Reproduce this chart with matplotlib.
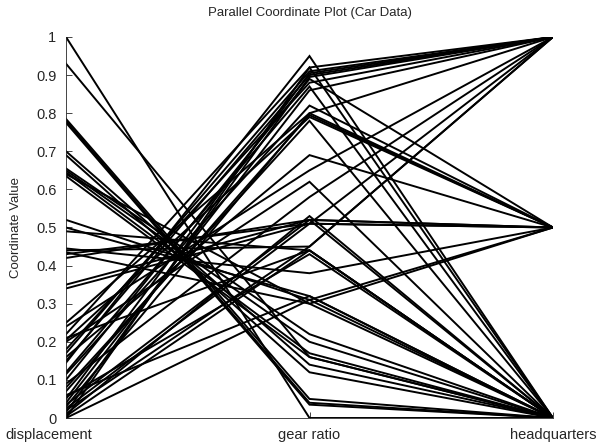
import matplotlib
matplotlib.use("Agg")
import matplotlib.pyplot as plt
import matplotlib.transforms as mtransforms
import numpy as np

plt.rcParams['font.family'] = ['Liberation Sans', 'DejaVu Sans']

variables = ["displacement", "gear ratio", "headquarters"]

displacement = [1.00, 0.93, 0.785, 0.78, 0.775, 0.70, 0.69, 0.655, 0.65, 0.645, 0.64, 0.635,
                0.52, 0.50, 0.49, 0.445, 0.44, 0.435, 0.43, 0.42, 0.35, 0.34,
                0.25, 0.24, 0.22, 0.21, 0.205, 0.20, 0.18, 0.17, 0.16, 0.15, 0.145,
                0.12, 0.115, 0.10, 0.09, 0.08, 0.07, 0.06, 0.055, 0.05, 0.04, 0.035,
                0.03, 0.025, 0.02, 0.015, 0.01, 0.005, 0.0, 0.0]
gear_ratio = [0.00, 0.16, 0.05, 0.04, 0.035, 0.14, 0.12, 0.22, 0.20, 0.17, 0.30, 0.16,
              0.31, 0.32, 0.44, 0.38, 0.45, 0.30, 0.51, 0.52, 0.52, 0.51,
              0.80, 0.65, 0.92, 0.44, 0.79, 0.62, 0.88, 0.91, 0.69, 0.90, 0.95,
              0.87, 0.82, 0.89, 0.58, 0.78, 0.795, 0.32, 0.43, 0.905, 0.86, 0.52,
              0.80, 0.51, 0.45, 0.895, 0.53, 0.44, 0.31, 0.92]
headquarters = [0.0, 0.0, 0.0, 0.0, 0.0, 0.0, 0.0, 0.0, 0.0, 0.0, 0.5, 0.0,
                0.0, 0.0, 0.0, 0.5, 1.0, 0.0, 0.5, 0.0, 0.5, 1.0,
                1.0, 1.0, 1.0, 0.0, 0.5, 0.0, 1.0, 1.0, 0.5, 1.0, 0.0,
                0.0, 0.5, 0.5, 1.0, 0.0, 0.5, 0.0, 0.0, 1.0, 1.0, 0.5,
                0.5, 0.5, 1.0, 1.0, 0.0, 0.0, 0.5, 0.0]

fig = plt.figure(figsize=(6.04, 4.48), dpi=100)
ax = fig.add_axes([66/604, 1-418/448, (553-66)/604, (418-37)/448])

xs = np.arange(1, len(variables) + 1)
for d, g, h in zip(displacement, gear_ratio, headquarters):
    ax.plot(xs, [d, g, h], color='black', lw=1.4, solid_joinstyle='miter')

ax.set_xlim(1, 3)
ax.set_ylim(0, 1)
ax.set_xticks(xs)
ax.set_xticklabels(variables, fontsize=10.5)
yt = np.round(np.arange(0, 1.01, 0.1), 1)
ax.set_yticks(yt)
ax.set_yticklabels([("%g" % v) for v in yt], fontsize=10.5)
ax.tick_params(direction='in', length=4, width=0.6, colors='#262626')
ax.tick_params(axis='x', pad=7)
ax.tick_params(axis='y', pad=7)
# shift first x label so it stays inside the figure, as in the reference
lbl0 = ax.get_xticklabels()[0]
lbl0.set_transform(lbl0.get_transform() + mtransforms.ScaledTranslation(-17/100, 0, fig.dpi_scale_trans))
for s in ['top', 'right']:
    ax.spines[s].set_visible(False)
for s in ['left', 'bottom']:
    ax.spines[s].set_color('#262626')
    ax.spines[s].set_linewidth(0.6)
ax.set_ylabel("Coordinate Value", fontsize=9.5, color='#262626', labelpad=10)
ax.set_title("Parallel Coordinate Plot (Car Data)", fontsize=9.5, color='#262626', pad=15)

fig.savefig("out.png", dpi=100)
